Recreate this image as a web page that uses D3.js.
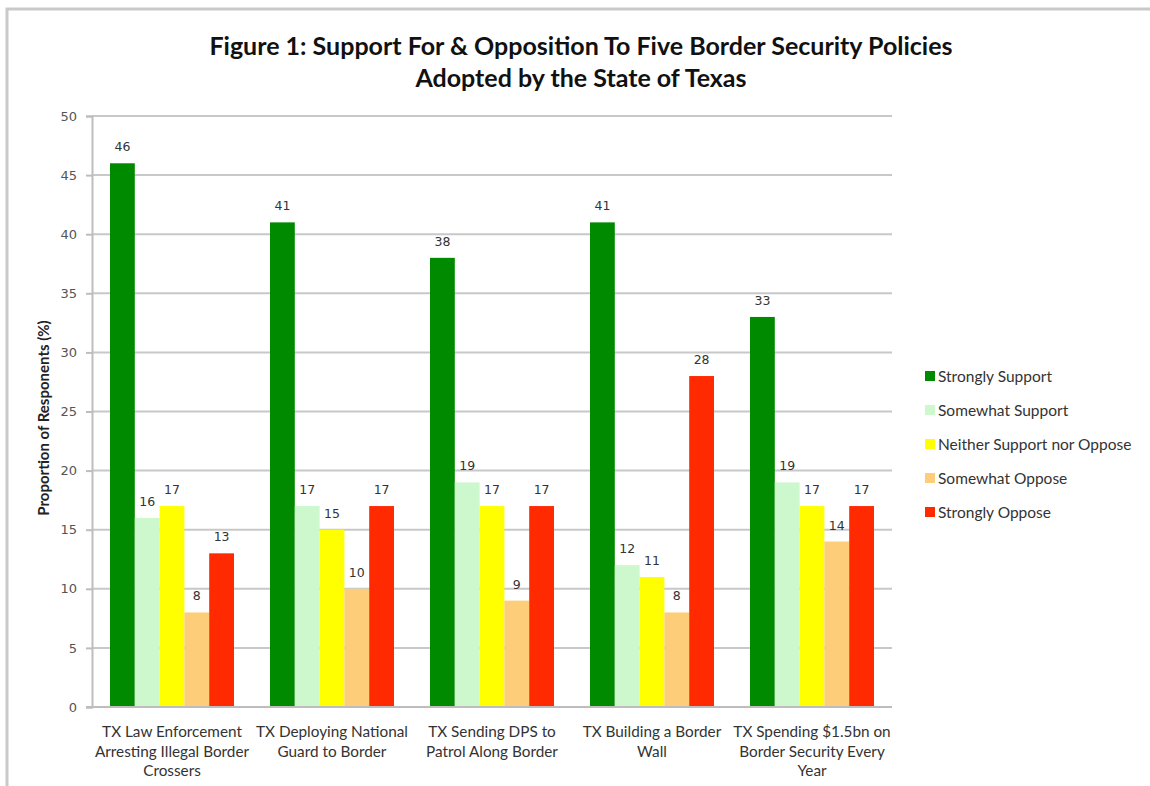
<!DOCTYPE html>
<html>
<head>
<meta charset="utf-8">
<script src="https://cdn.jsdelivr.net/npm/d3@7"></script>
<style>
  html, body { margin: 0; padding: 0; background: #ffffff; }
  svg { display: block; }
</style>
</head>
<body>
<svg id="chart" width="1150" height="786"></svg>
<script>
// Policy categories (x-axis), each label split into its wrapped lines
const categories = [
  "TX Law Enforcement Arresting Illegal Border Crossers",
  "TX Deploying National Guard to Border",
  "TX Sending DPS to Patrol Along Border",
  "TX Building a Border Wall",
  "TX Spending $1.5bn on Border Security Every Year"
];
const categoryLines = [
  ["TX Law Enforcement", "Arresting Illegal Border", "Crossers"],
  ["TX Deploying National", "Guard to Border"],
  ["TX Sending DPS to", "Patrol Along Border"],
  ["TX Building a Border", "Wall"],
  ["TX Spending $1.5bn on", "Border Security Every", "Year"]
];

// Response series
const seriesNames = [
  "Strongly Support",
  "Somewhat Support",
  "Neither Support nor Oppose",
  "Somewhat Oppose",
  "Strongly Oppose"
];
const stronglySupport = [46, 41, 38, 41, 33];
const somewhatSupport = [16, 17, 19, 12, 19];
const neitherSupportNorOppose = [17, 15, 17, 11, 17];
const somewhatOppose = [8, 10, 9, 8, 14];
const stronglyOppose = [13, 17, 17, 28, 17];
const seriesColors = ["#008a00", "#cdf8cd", "#ffff00", "#fdcd7a", "#ff2a00"];

const yTicks = [0, 5, 10, 15, 20, 25, 30, 35, 40, 45, 50];

const seriesValues = [stronglySupport, somewhatSupport, neitherSupportNorOppose, somewhatOppose, stronglyOppose];
const rows = categories.map((c, i) => ({
  category: c,
  values: seriesNames.map((s, j) => ({ series: s, value: seriesValues[j][i], color: seriesColors[j] }))
}));

const svg = d3.select("#chart");
const plot = { left: 92, right: 892, top: 116, bottom: 707 };

const x0 = d3.scaleBand().domain(categories).range([plot.left, plot.right])
  .paddingInner(0.225).paddingOuter(0.1125);
const x1 = d3.scaleBand().domain(seriesNames).range([0, x0.bandwidth()]).padding(0);
const y = d3.scaleLinear().domain([0, 50]).range([plot.bottom, plot.top]);

// Outer frame
svg.append("path")
  .attr("d", `M7,786 V9 H1150`)
  .attr("fill", "none").attr("stroke", "#c9c9c9").attr("stroke-width", 3);

// Title
const title = svg.append("text")
  .attr("x", 581).attr("text-anchor", "middle")
  .attr("font-family", "Lato, 'Open Sans', sans-serif")
  .attr("font-weight", "bold").attr("font-size", 25).attr("fill", "#111");
title.append("tspan").attr("x", 581).attr("y", 55)
  .text("Figure 1: Support For & Opposition To Five Border Security Policies");
title.append("tspan").attr("x", 581).attr("y", 87)
  .text("Adopted by the State of Texas");

// Gridlines
svg.append("g").selectAll("line").data(yTicks.filter(d => d > 0)).join("line")
  .attr("x1", plot.left).attr("x2", plot.right)
  .attr("y1", d => y(d)).attr("y2", d => y(d))
  .attr("stroke", "#c8c8c8").attr("stroke-width", 2);

// Y axis
const yAxis = svg.append("g")
  .attr("transform", `translate(${plot.left},0)`)
  .call(d3.axisLeft(y).tickValues(yTicks).tickSize(6).tickPadding(9));
yAxis.select(".domain").attr("stroke", "#bdbdbd").attr("stroke-width", 2);
yAxis.selectAll(".tick line").attr("stroke", "#bdbdbd").attr("stroke-width", 2);
yAxis.selectAll(".tick text")
  .attr("font-family", "'DejaVu Sans', Verdana, sans-serif")
  .attr("font-size", 13).attr("fill", "#555");

// Y axis title
svg.append("text")
  .attr("transform", "translate(49,418) rotate(-90)")
  .attr("text-anchor", "middle")
  .attr("font-family", "Lato, 'Open Sans', sans-serif")
  .attr("font-weight", "bold").attr("font-size", 15).attr("fill", "#222")
  .text("Proportion of Responents (%)");

// Bars
const groups = svg.append("g").selectAll("g").data(rows).join("g")
  .attr("transform", d => `translate(${x0(d.category)},0)`);

groups.selectAll("rect").data(d => d.values).join("rect")
  .attr("x", d => x1(d.series))
  .attr("y", d => y(d.value))
  .attr("width", x1.bandwidth())
  .attr("height", d => y(0) - y(d.value))
  .attr("fill", d => d.color);

// Value labels
groups.selectAll("text.value").data(d => d.values).join("text")
  .attr("class", "value")
  .attr("x", d => x1(d.series) + x1.bandwidth() / 2)
  .attr("y", d => y(d.value) - 12)
  .attr("text-anchor", "middle")
  .attr("font-family", "'DejaVu Sans', Verdana, sans-serif")
  .attr("font-size", 12.5).attr("fill", "#333")
  .text(d => d.value);

// X axis baseline
svg.append("line")
  .attr("x1", plot.left - 6).attr("x2", plot.right)
  .attr("y1", y(0)).attr("y2", y(0))
  .attr("stroke", "#bdbdbd").attr("stroke-width", 2);

// Category labels
const xLabels = svg.append("g").selectAll("text").data(categories).join("text")
  .attr("text-anchor", "middle")
  .attr("font-family", "Lato, 'Open Sans', sans-serif")
  .attr("font-size", 15.3).attr("fill", "#333");
xLabels.each(function(c, i) {
  const t = d3.select(this);
  const cx = x0(c) + x0.bandwidth() / 2;
  categoryLines[i].forEach((line, k) => {
    t.append("tspan").attr("x", cx).attr("y", 737 + k * 19.5).text(line);
  });
});

// Legend
const legend = svg.append("g").selectAll("g").data(seriesNames).join("g")
  .attr("transform", (d, i) => `translate(925,${377 + i * 34})`);
legend.append("rect")
  .attr("x", 0).attr("y", -6).attr("width", 10).attr("height", 10)
  .attr("fill", (d, i) => seriesColors[i]);
legend.append("text")
  .attr("x", 13).attr("y", 5)
  .attr("font-family", "Lato, 'Open Sans', sans-serif")
  .attr("font-size", 15.5).attr("fill", "#333")
  .text(d => d);
</script>
</body>
</html>
